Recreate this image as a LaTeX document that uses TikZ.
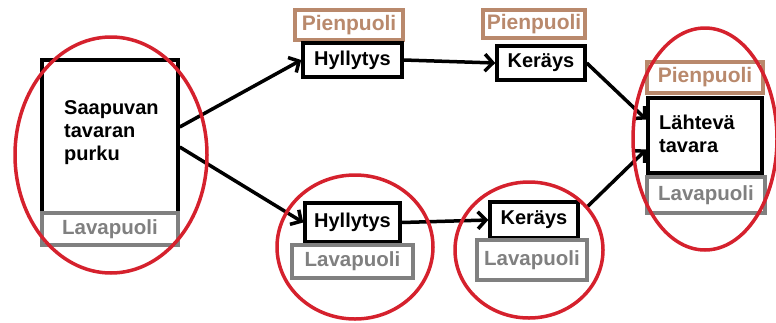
\documentclass[tikz,border=0pt]{standalone}
\usepackage{fontspec}
\setmainfont{Liberation Sans}
\usetikzlibrary{arrows.meta,calc}
\definecolor{ringred}{RGB}{213,33,45}
\definecolor{smallside}{RGB}{185,137,108}
\definecolor{palletside}{RGB}{128,128,128}
\tikzset{
  stage/.style={draw=black, line width=3.5pt, fill=white, inner sep=0pt},
  smallbox/.style={draw=smallside, line width=3.5pt, fill=white, inner sep=0pt,
    text=smallside, font=\fontsize{21}{24}\selectfont\bfseries},
  palletbox/.style={draw=palletside, line width=3.5pt, fill=white, inner sep=0pt,
    text=palletside, font=\fontsize{20.5}{24}\selectfont\bfseries},
  label/.style={font=\fontsize{20}{23}\selectfont\bfseries, inner sep=0pt, align=left},
  flow/.style={line width=3.5pt, -{Straight Barb[length=8pt,width=17pt]}},
  ring/.style={draw=ringred, line width=3.5pt}
}
\begin{document}
\begin{tikzpicture}[x=1pt,y=-1pt]
\useasboundingbox (0,0) rectangle (776,322);

% receiving
\node[stage, minimum width=136pt, minimum height=153pt] (purku) at (110,136.5) {};
\node[label, anchor=west] (purkutxt) at (64,133) {Saapuvan\\tavaran\\purku};
\node[palletbox, minimum width=136pt, minimum height=32pt] (purkuL) at (110,229) {Lavapuoli};

% small-parts side
\node[smallbox, minimum width=108pt, minimum height=30pt] (hylAP) at (349,25) {Pienpuoli};
\node[stage, label, minimum width=99pt, minimum height=34pt] (hylA) at (352.5,60) {Hyllytys};
\node[smallbox, minimum width=102pt, minimum height=28pt] (kerAP) at (534,24) {Pienpuoli};
\node[stage, label, minimum width=88pt, minimum height=34pt] (kerA) at (541,63) {Keräys};

% pallet side
\node[stage, label, minimum width=95pt, minimum height=39pt] (hylB) at (352.5,222.5) {Hyllytys};
\node[palletbox, minimum width=121pt, minimum height=33pt] (hylBL) at (352.5,261.5) {Lavapuoli};
\node[stage, label, minimum width=88pt, minimum height=36pt] (kerB) at (534,220) {Keräys};
\node[palletbox, minimum width=110pt, minimum height=40pt] (kerBL) at (532,260) {Lavapuoli};

% outgoing
\node[smallbox, minimum width=116pt, minimum height=31pt] (lahP) at (705,77.5) {Pienpuoli};
\node[stage, minimum width=114pt, minimum height=75pt] (lah) at (705,135.5) {};
\node[label, anchor=west] (lahtxt) at (659,134) {Lähtevä\\tavara};
\node[palletbox, minimum width=118pt, minimum height=36pt] (lahL) at (706,195) {Lavapuoli};

% flows
\draw[flow] ($(purku.east)+(0,-9.5)$) -- (hylA.west);
\draw[flow] ($(purku.east)+(0,10.5)$) -- (hylB.west);
\draw[flow] (hylA.east) -- (kerA.west);
\draw[flow] (hylB.east) -- (kerB.west);
\draw[flow] (kerA.east) -- ($(lah.west)+(0,-16)$);
\draw[flow] ($(kerB.north east)+(6,8)$) -- ($(lah.west)+(0,14)$);

% groupings
\draw[ring] (111,155) ellipse [x radius=96, y radius=118];
\draw[ring] (355,247) ellipse [x radius=78, y radius=72];
\draw[ring] (529,250) ellipse [x radius=74, y radius=68];
\draw[ring] (705,139) ellipse [x radius=72, y radius=111];
\end{tikzpicture}
\end{document}
